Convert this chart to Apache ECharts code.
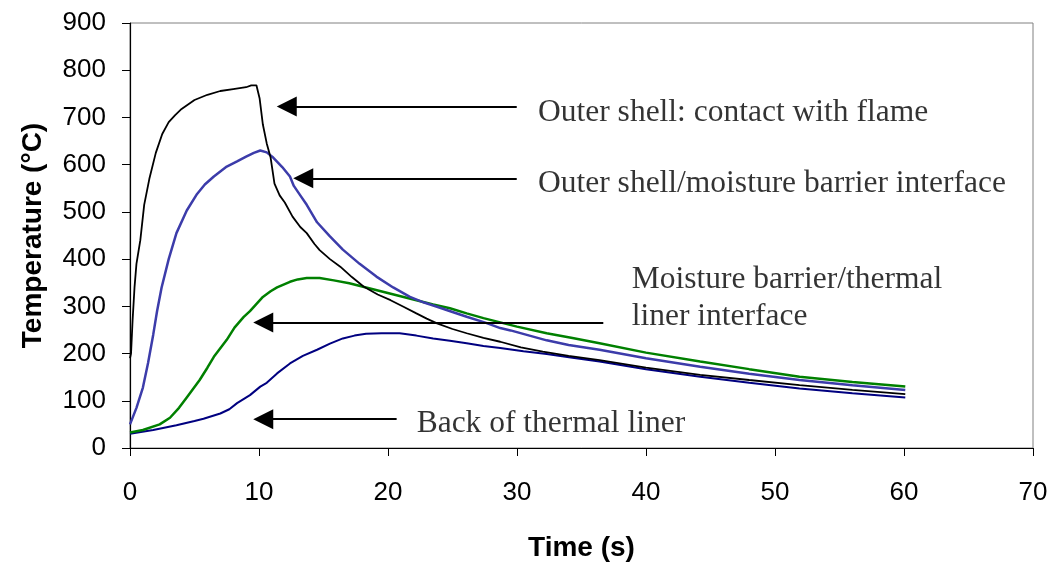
<!DOCTYPE html>
<html>
<head>
<meta charset="utf-8">
<script src="https://cdn.jsdelivr.net/npm/echarts@6/dist/echarts.min.js"></script>
<style>html,body{margin:0;padding:0;background:#fff}#c{width:1055px;height:563px}</style>
</head>
<body>
<div id="c"></div>
<script>
// Time (s), Temperature (°C)
const outerShell = [[0,190],[0.08,200],[0.2,270],[0.35,340],[0.5,390],[0.8,440],[1.1,515],[1.5,570],[2.0,625],[2.5,665],[3.0,690],[3.5,705],[4.0,718],[5.0,737],[6.0,748],[7.0,756],[8.0,760],[9.0,764],[9.4,768],[9.8,768],[10.05,740],[10.3,685],[10.6,645],[10.9,615],[11.2,560],[11.6,535],[12.0,520],[12.6,490],[13.2,468],[13.7,455],[14.3,432],[14.7,419],[15.5,400],[16.3,384],[17.2,362],[18.1,342],[19.2,325],[20.2,313],[21.2,299],[22.2,285],[23.0,274],[23.8,264],[25.0,252],[26.1,243],[27.4,233],[28.7,225],[30.3,213],[32.0,204],[34.0,195],[36.4,186],[40,170],[44.2,155],[48,144],[51.9,133],[56,123],[60.1,114]];
const shellMoisture = [[0,50],[0.5,85],[1.0,128],[1.4,180],[1.8,240],[2.1,290],[2.45,340],[3.0,400],[3.6,455],[4.4,503],[5.2,538],[5.8,558],[6.5,575],[7.5,596],[8.3,607],[9.0,617],[9.6,625],[10.1,630],[10.6,626],[11.1,615],[11.8,595],[12.4,575],[12.7,555],[13.2,535],[13.7,515],[14.5,478],[15.5,448],[16.5,420],[17.8,390],[19.1,363],[20.4,340],[21.7,320],[22.8,308],[23.8,299],[25.0,288],[26.1,278],[27.6,265],[28.7,254],[29.5,249],[32.3,228],[34,218],[36.4,208],[40,190],[44.2,172],[48,157],[51.9,144],[56,133],[60.1,123]];
const moistureLiner = [[0,33],[1,38],[2.3,50],[3.1,64],[3.8,85],[4.4,107],[5.4,144],[6.0,170],[6.5,193],[7.5,229],[8.1,255],[8.8,277],[9.3,290],[10.3,320],[10.9,332],[11.4,340],[12.4,352],[13.0,357],[13.7,360],[14.7,360],[15.8,355],[17.0,349],[18.3,340],[19.6,331],[20.9,322],[22.2,313],[23.5,304],[24.8,296],[26.1,285],[27.4,275],[28.7,266],[30.0,257],[32.3,243],[34.3,233],[36.4,222],[40,202],[44.2,183],[48,167],[51.9,151],[56,140],[60.1,130]];
const backLiner = [[0,30],[1.8,38],[3.6,48],[5.0,57],[5.7,62],[7.0,73],[7.7,82],[8.3,95],[9.3,112],[10.1,130],[10.6,138],[11.4,158],[12.4,179],[13.4,195],[14.5,208],[15.5,221],[16.5,232],[17.4,238],[18.3,242],[19.5,243],[20.9,243],[22.2,238],[23.5,232],[24.8,227],[26.1,222],[27.4,216],[28.7,212],[30.5,205],[32.3,199],[34.3,191],[36.4,183],[40,167],[44.2,151],[48,138],[51.9,126],[56,116],[60.1,107]];

// annotation arrows: [tailTime, headTime, temperature]
const arrows = [[29.98,12.15,723],[29.98,13.43,571],[36.69,10.33,266],[20.67,10.33,61]];
// annotation texts: [time, temperature, text]
const notes = [
  [31.63,709,'Outer shell: contact with flame'],
  [31.63,560,'Outer shell/moisture barrier interface'],
  [38.89,318,'Moisture barrier/thermal\nliner interface'],
  [22.22,52,'Back of thermal liner']
];
const xTicks = {min:0,max:70,interval:10};
const yTicks = {min:0,max:900,interval:100};

const chart = echarts.init(document.getElementById('c'), null, {renderer:'canvas'});
const sans = 'Liberation Sans, Arial, sans-serif';
const serif = 'Liberation Serif, Times New Roman, serif';
chart.setOption({
  animation:false,
  grid:{left:130,right:22,top:23,bottom:115,containLabel:false,outerBoundsMode:'none',
    show:true,borderColor:'#808080',borderWidth:1},
  xAxis:{type:'value',min:xTicks.min,max:xTicks.max,interval:xTicks.interval,
    name:'Time (s)',nameLocation:'middle',nameGap:86,
    nameTextStyle:{fontFamily:sans,fontSize:28,fontWeight:'bold',color:'#000'},
    axisLine:{show:true,onZero:false,lineStyle:{color:'#000',width:1.2}},
    axisTick:{show:true,length:8,inside:false,lineStyle:{color:'#000',width:1}},
    axisLabel:{fontFamily:sans,fontSize:26,color:'#000',margin:32},
    splitLine:{show:false}},
  yAxis:{type:'value',min:yTicks.min,max:yTicks.max,interval:yTicks.interval,
    name:'Temperature (°C)',nameLocation:'middle',nameGap:83,
    nameTextStyle:{fontFamily:sans,fontSize:28,fontWeight:'bold',color:'#000'},
    axisLine:{show:true,onZero:false,lineStyle:{color:'#000',width:1.2}},
    axisTick:{show:true,length:8,lineStyle:{color:'#000',width:1}},
    axisLabel:{fontFamily:sans,fontSize:26,color:'#000',margin:24},
    splitLine:{show:false}},
  series:[
    {name:'Back of thermal liner',type:'line',data:backLiner,showSymbol:false,symbol:'none',
      lineStyle:{color:'#000080',width:2},z:2},
    {name:'Moisture barrier/thermal liner interface',type:'line',data:moistureLiner,showSymbol:false,symbol:'none',
      lineStyle:{color:'#008000',width:2.5},z:3},
    {name:'Outer shell/moisture barrier interface',type:'line',data:shellMoisture,showSymbol:false,symbol:'none',
      lineStyle:{color:'#3c3caa',width:2.5},z:4},
    {name:'Outer shell: contact with flame',type:'line',data:outerShell,showSymbol:false,symbol:'none',
      lineStyle:{color:'#000',width:1.8},z:5,
      markLine:{silent:true,symbol:['none','triangle'],symbolSize:[20,20],
        label:{show:false},
        lineStyle:{color:'#000',width:2,type:'solid'},
        itemStyle:{color:'#000'},
        data:arrows.map(a=>[{coord:[a[0],a[2]]},{coord:[a[1],a[2]]}])}},
    {name:'notes',type:'scatter',data:notes.map(n=>[n[0],n[1],n[2]]),symbolSize:0,silent:true,
      label:{show:true,position:'right',distance:0,formatter:p=>p.data[2],
        fontFamily:serif,fontSize:31.5,color:'#000',lineHeight:37,align:'left',verticalAlign:'middle'},z:6}
  ]
});
</script>
</body>
</html>
